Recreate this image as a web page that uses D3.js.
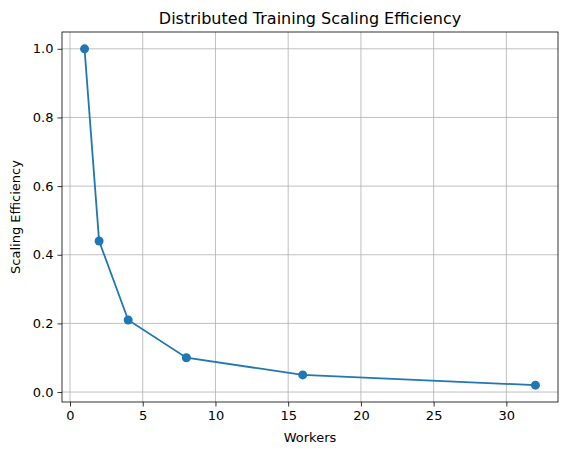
<!DOCTYPE html>
<html><head><meta charset="utf-8">
<script src="https://cdn.jsdelivr.net/npm/d3@7.9.0/dist/d3.min.js"></script>
<style>body{margin:0;background:#fff;font-family:"DejaVu Sans",sans-serif}</style>
</head><body><div id="chart"></div>
<script>
const workers = [1, 2, 4, 8, 16, 32];
const efficiency = [1.0, 0.44, 0.21, 0.10, 0.05, 0.02];
const xTicks = [0, 5, 10, 15, 20, 25, 30];
const yTicks = [0, 0.2, 0.4, 0.6, 0.8, 1.0];

const width = 567, height = 455;
const margin = { top: 32, right: 9, bottom: 53, left: 62 };

const svg = d3.select('#chart').append('svg')
  .attr('width', width).attr('height', height);

const x = d3.scaleLinear().domain([-0.55, 33.55]).range([margin.left, width - margin.right]);
const y = d3.scaleLinear().domain([-0.029, 1.049]).range([height - margin.bottom, margin.top]);

// grid
svg.append('g').selectAll('line').data(xTicks).join('line')
  .attr('x1', d => x(d)).attr('x2', d => x(d))
  .attr('y1', margin.top).attr('y2', height - margin.bottom)
  .attr('stroke', '#b0b0b0').attr('stroke-width', 0.8);
svg.append('g').selectAll('line').data(yTicks).join('line')
  .attr('y1', d => y(d)).attr('y2', d => y(d))
  .attr('x1', margin.left).attr('x2', width - margin.right)
  .attr('stroke', '#b0b0b0').attr('stroke-width', 0.8);

const xAxis = svg.append('g')
  .attr('transform', `translate(0,${height - margin.bottom})`)
  .call(d3.axisBottom(x).tickValues(xTicks).tickSize(4.5).tickPadding(4).tickFormat(d3.format('d')));
const yAxis = svg.append('g')
  .attr('transform', `translate(${margin.left},0)`)
  .call(d3.axisLeft(y).tickValues(yTicks).tickSize(4.5).tickPadding(4).tickFormat(d3.format('.1f')));
[xAxis, yAxis].forEach(a => {
  a.select('.domain').remove();
  a.selectAll('text').attr('font-size', 13).attr('fill', '#000').attr('font-family', 'DejaVu Sans');
  a.selectAll('line').attr('stroke', '#000').attr('stroke-width', 0.8);
});

svg.append('rect')
  .attr('x', margin.left).attr('y', margin.top)
  .attr('width', width - margin.left - margin.right)
  .attr('height', height - margin.top - margin.bottom)
  .attr('fill', 'none').attr('stroke', '#000').attr('stroke-width', 0.8);

const pts = workers.map((w, i) => [w, efficiency[i]]);
svg.append('path').datum(pts)
  .attr('d', d3.line().x(d => x(d[0])).y(d => y(d[1])))
  .attr('fill', 'none').attr('stroke', '#1f77b4').attr('stroke-width', 1.8);
svg.append('g').selectAll('circle').data(pts).join('circle')
  .attr('cx', d => x(d[0])).attr('cy', d => y(d[1])).attr('r', 4.5)
  .attr('fill', '#1f77b4');

svg.append('text').attr('x', (margin.left + width - margin.right) / 2).attr('y', 24)
  .attr('text-anchor', 'middle').attr('font-size', 16).text('Distributed Training Scaling Efficiency');
svg.append('text').attr('x', (margin.left + width - margin.right) / 2).attr('y', 442)
  .attr('text-anchor', 'middle').attr('font-size', 13).text('Workers');
svg.append('text').attr('transform', `translate(20,${(margin.top + height - margin.bottom) / 2}) rotate(-90)`)
  .attr('text-anchor', 'middle').attr('font-size', 13).text('Scaling Efficiency');
</script></body></html>
